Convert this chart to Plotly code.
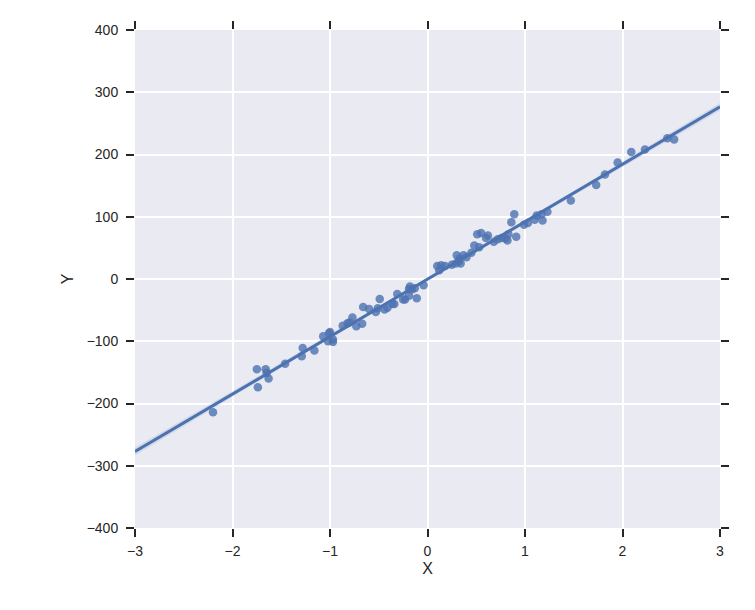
import numpy as np
import plotly.graph_objects as go

x_vals = [-2.20, -1.75, -1.74, -1.66, -1.65, -1.63, -1.46, -1.29, -1.28, -1.16,
          -1.07, -1.02, -1.01, -1.00, -0.97, -0.97, -0.87, -0.82, -0.80, -0.77,
          -0.73, -0.67, -0.66, -0.60, -0.53, -0.51, -0.49, -0.44, -0.41, -0.36,
          -0.34, -0.31, -0.25, -0.23, -0.19, -0.19, -0.18, -0.16, -0.13, -0.11,
          -0.04, 0.10, 0.12, 0.14, 0.18, 0.25, 0.29, 0.30, 0.32, 0.33,
          0.34, 0.37, 0.40, 0.45, 0.48, 0.51, 0.53, 0.55, 0.60, 0.62,
          0.68, 0.72, 0.76, 0.80, 0.82, 0.83, 0.86, 0.89, 0.91, 0.99,
          1.03, 1.10, 1.12, 1.17, 1.18, 1.23, 1.47, 1.73, 1.82, 1.95,
          2.09, 2.23, 2.46, 2.53]
y_vals = [-214, -145, -174, -145, -151, -160, -136, -124, -111, -115,
          -92, -100, -87, -85, -97, -101, -75, -71, -70, -62,
          -76, -72, -45, -48, -53, -47, -32, -49, -46, -40,
          -40, -24, -33, -33, -16, -27, -12, -17, -15, -31,
          -10, 21, 14, 22, 21, 23, 25, 38, 28, 33,
          25, 38, 35, 42, 54, 72, 51, 74, 66, 70,
          60, 64, 66, 65, 62, 72, 91, 104, 68, 87,
          90, 95, 102, 104, 94, 108, 126, 151, 168, 187,
          204, 208, 226, 224]

x_ticks = [-3, -2, -1, 0, 1, 2, 3]
y_ticks = [-400, -300, -200, -100, 0, 100, 200, 300, 400]

xa = np.array(x_vals, float)
ya = np.array(y_vals, float)
n = len(xa)
slope, intercept = np.polyfit(xa, ya, 1)
xs = np.linspace(-3, 3, 100)
ys = intercept + slope * xs
resid = ya - (intercept + slope * xa)
s = np.sqrt(np.sum(resid ** 2) / (n - 2))
se = s * np.sqrt(1 / n + (xs - xa.mean()) ** 2 / np.sum((xa - xa.mean()) ** 2))
upper = ys + 1.99 * se
lower = ys - 1.99 * se

color = "#4C72B0"
fig = go.Figure()
fig.add_trace(go.Scatter(x=np.concatenate([xs, xs[::-1]]), y=np.concatenate([upper, lower[::-1]]),
                         fill="toself", fillcolor="rgba(76,114,176,0.15)", line=dict(width=0),
                         mode="lines", hoverinfo="skip", showlegend=False))
fig.add_trace(go.Scatter(x=xa, y=ya, mode="markers",
                         marker=dict(color=color, opacity=0.8, size=8.5, line=dict(width=0)),
                         showlegend=False))
fig.add_trace(go.Scatter(x=xs, y=ys, mode="lines", line=dict(color=color, width=3),
                         showlegend=False))

tickfont = dict(family="Liberation Sans, Arial, sans-serif", size=14, color="#262626")
fig.update_layout(
    width=755, height=610,
    margin=dict(l=127, r=43, t=22, b=90),
    paper_bgcolor="white", plot_bgcolor="#EAEAF2",
    font=tickfont,
    xaxis=dict(range=[-3, 3], tickvals=x_ticks, ticktext=[str(v).replace("-", "\u2212") for v in x_ticks],
               showgrid=True, gridcolor="white", gridwidth=1.5, zeroline=False,
               ticks="outside", ticklen=8, tickwidth=2, tickcolor="#262626", mirror="ticks",
               ticklabelstandoff=2,
               showline=False, title=dict(text="X", font=dict(size=16, color="#262626"), standoff=5)),
    yaxis=dict(range=[-400, 400], tickvals=y_ticks, ticktext=[str(v).replace("-", "\u2212") for v in y_ticks],
               showgrid=True, gridcolor="white", gridwidth=1.5, zeroline=False,
               ticks="outside", ticklen=8, tickwidth=2, tickcolor="#262626", mirror="ticks",
               ticklabelstandoff=5,
               showline=False, title=dict(text="Y", font=dict(size=16, color="#262626"), standoff=9)),
)
fig.write_html("out.html")
